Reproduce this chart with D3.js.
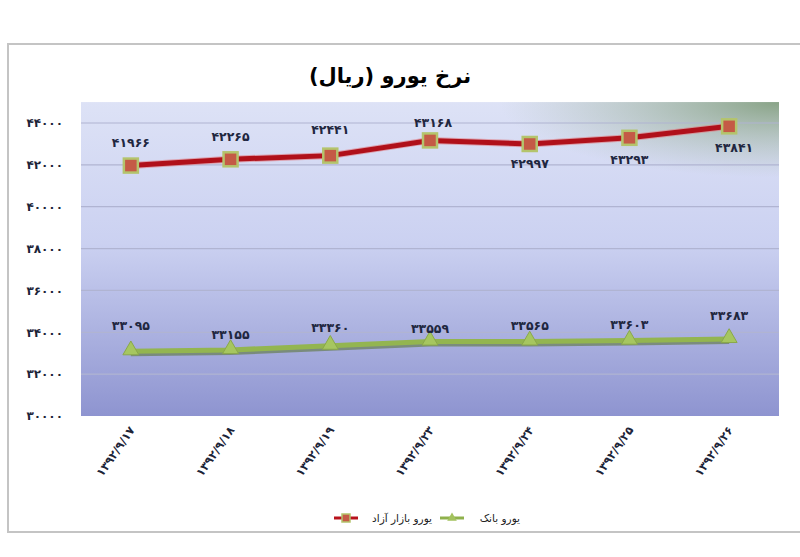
<!DOCTYPE html>
<html><head><meta charset="utf-8">
<script src="https://cdn.jsdelivr.net/npm/d3@7"></script>
<style>html,body{margin:0;padding:0;background:#fff;}svg{display:block;}</style>
</head><body>
<svg id="c" width="800" height="557"></svg>
<script>
const categories = ["۱۳۹۲/۹/۱۷","۱۳۹۲/۹/۱۸","۱۳۹۲/۹/۱۹","۱۳۹۲/۹/۲۳","۱۳۹۲/۹/۲۴","۱۳۹۲/۹/۲۵","۱۳۹۲/۹/۲۶"];
const freeMarket = [41966, 42265, 42441, 43168, 42997, 43293, 43841];
const bank = [33095, 33155, 33360, 33559, 33565, 33603, 33683];
const yTicks = [30000, 32000, 34000, 36000, 38000, 40000, 42000, 44000];
const seriesNames = ["یورو بازار آزاد", "یورو بانک"];
const title = "نرخ یورو (ریال)";

// layout (label nudges, px)
const redLabelDy = [-23, -23, -26, -18, 20, 22, 21];
const redLabelDx = [0, 0, 0, 3, 0, 0, 5];
const greenLabelDy = [-26, -15, -18, -13, -16, -16, -23];

const fa = n => String(n).replace(/\d/g, d => "۰۱۲۳۴۵۶۷۸۹"[d]);
const FONT = "DejaVu Sans";
const svg = d3.select("#c");

// outer frame
svg.append("rect").attr("x", 8).attr("y", 44).attr("width", 800).attr("height", 488)
  .attr("fill", "#fff").attr("stroke", "#c4c4c4").attr("stroke-width", 2);

const x = d3.scalePoint().domain(categories).range([81, 779]).padding(0.5);
const y = d3.scaleLinear().domain([30000, 44000]).range([416, 123]);

const defs = svg.append("defs");
const lg = defs.append("linearGradient").attr("id", "bg").attr("x1", 0).attr("y1", 0).attr("x2", 0).attr("y2", 1);
lg.append("stop").attr("offset", "0%").attr("stop-color", "#dde2f6");
lg.append("stop").attr("offset", "45%").attr("stop-color", "#cbd1f1");
lg.append("stop").attr("offset", "100%").attr("stop-color", "#8e94d0");
const rg = defs.append("radialGradient").attr("id", "corner").attr("cx", 1).attr("cy", 0).attr("r", 0.4)
  .attr("gradientTransform", "scale(1,0.6)");
rg.append("stop").attr("offset", "0%").attr("stop-color", "#7f9c7a").attr("stop-opacity", 0.9);
rg.append("stop").attr("offset", "100%").attr("stop-color", "#a4b8a4").attr("stop-opacity", 0);

const px0 = 81, px1 = 779, pyTop = y(45000), pyBot = y(30000);
svg.append("rect").attr("x", px0).attr("y", pyTop).attr("width", px1 - px0).attr("height", pyBot - pyTop).attr("fill", "url(#bg)");
svg.append("rect").attr("x", px0).attr("y", pyTop).attr("width", px1 - px0).attr("height", pyBot - pyTop).attr("fill", "url(#corner)");

// gridlines
svg.append("g").selectAll("line").data(yTicks.slice(1)).join("line")
  .attr("x1", px0).attr("x2", px1).attr("y1", d => y(d)).attr("y2", d => y(d))
  .attr("stroke", "#b0b4d2").attr("stroke-width", 1.2);

// y axis labels
const yAxis = d3.axisLeft(y).tickValues(yTicks).tickSize(0).tickPadding(0).tickFormat(fa);
const ya = svg.append("g").attr("transform", "translate(63,0)").call(yAxis);
ya.select(".domain").remove();
ya.selectAll("text").attr("font-family", FONT).attr("font-size", 12).attr("font-weight", "bold").attr("fill", "#1c2438");

// x axis labels
const xAxis = d3.axisBottom(x).tickSize(0).tickPadding(0);
const xa = svg.append("g").attr("transform", "translate(0,430)").call(xAxis);
xa.select(".domain").remove();
xa.selectAll("text").attr("font-family", FONT).attr("font-size", 11.5).attr("font-weight", "bold").attr("fill", "#1c2438")
  .attr("text-anchor", "end").attr("dy", 0).attr("y", 0).attr("transform", "translate(4,0) rotate(-55)");

// title
svg.append("text").attr("x", 390).attr("y", 83).attr("text-anchor", "middle").attr("direction", "rtl")
  .attr("font-family", FONT).attr("font-size", 21).attr("font-weight", "bold").attr("fill", "#000").text(title);

const line = d3.line().x((d, i) => x(categories[i])).y(d => y(d));

// green series (bank)
svg.append("path").datum(bank).attr("d", line).attr("transform", "translate(0,2.5)")
  .attr("fill", "none").attr("stroke", "#56712e").attr("stroke-width", 5).attr("opacity", 0.55);
svg.append("path").datum(bank).attr("d", line).attr("fill", "none").attr("stroke", "#93b550").attr("stroke-width", 5);
const tri = d3.symbol().type(d3.symbolTriangle).size(110);
svg.append("g").selectAll("path").data(bank).join("path")
  .attr("d", tri).attr("transform", (d, i) => `translate(${x(categories[i])},${y(d) - 1})`)
  .attr("fill", "#a6c660").attr("stroke", "#8aa84a").attr("stroke-width", 1);

// red series (free market)
svg.append("path").datum(freeMarket).attr("d", line).attr("fill", "none").attr("stroke", "#e07a80").attr("stroke-width", 7).attr("opacity", 0.6);
svg.append("path").datum(freeMarket).attr("d", line).attr("fill", "none").attr("stroke", "#b0101a").attr("stroke-width", 5);
svg.append("g").selectAll("rect").data(freeMarket).join("rect")
  .attr("x", (d, i) => x(categories[i]) - 7).attr("y", d => y(d) - 7).attr("width", 14).attr("height", 14)
  .attr("fill", "#c45a46").attr("stroke", "#b4c46c").attr("stroke-width", 2.5);

// data labels
svg.append("g").selectAll("text").data(freeMarket).join("text")
  .attr("x", (d, i) => x(categories[i]) + redLabelDx[i]).attr("y", (d, i) => y(d) + redLabelDy[i])
  .attr("dominant-baseline", "central").attr("text-anchor", "middle")
  .attr("font-family", FONT).attr("font-size", 12.5).attr("font-weight", "bold").attr("fill", "#1f2740").text(fa);
svg.append("g").selectAll("text").data(bank).join("text")
  .attr("x", (d, i) => x(categories[i])).attr("y", (d, i) => y(d) + greenLabelDy[i])
  .attr("dominant-baseline", "central").attr("text-anchor", "middle")
  .attr("font-family", FONT).attr("font-size", 12.5).attr("font-weight", "bold").attr("fill", "#1f2740").text(fa);

// legend
const lgY = 518;
const leg = svg.append("g");
leg.append("line").attr("x1", 334).attr("x2", 358).attr("y1", lgY).attr("y2", lgY).attr("stroke", "#b8121c").attr("stroke-width", 3);
leg.append("rect").attr("x", 342).attr("y", lgY - 4).attr("width", 8).attr("height", 8).attr("fill", "#c45a46").attr("stroke", "#b4c46c").attr("stroke-width", 1.5);
leg.append("text").attr("x", 432).attr("y", lgY).attr("dominant-baseline", "central").attr("text-anchor", "end")
  .attr("font-family", FONT).attr("font-size", 10.5).attr("fill", "#222").text(seriesNames[0]);
leg.append("line").attr("x1", 440).attr("x2", 464).attr("y1", lgY).attr("y2", lgY).attr("stroke", "#8fb14c").attr("stroke-width", 3);
leg.append("path").attr("d", d3.symbol().type(d3.symbolTriangle).size(40)).attr("transform", `translate(452,${lgY})`).attr("fill", "#a3c25e");
leg.append("text").attr("x", 520).attr("y", lgY).attr("dominant-baseline", "central").attr("text-anchor", "end")
  .attr("font-family", FONT).attr("font-size", 10.5).attr("fill", "#222").text(seriesNames[1]);
</script>
</body></html>
